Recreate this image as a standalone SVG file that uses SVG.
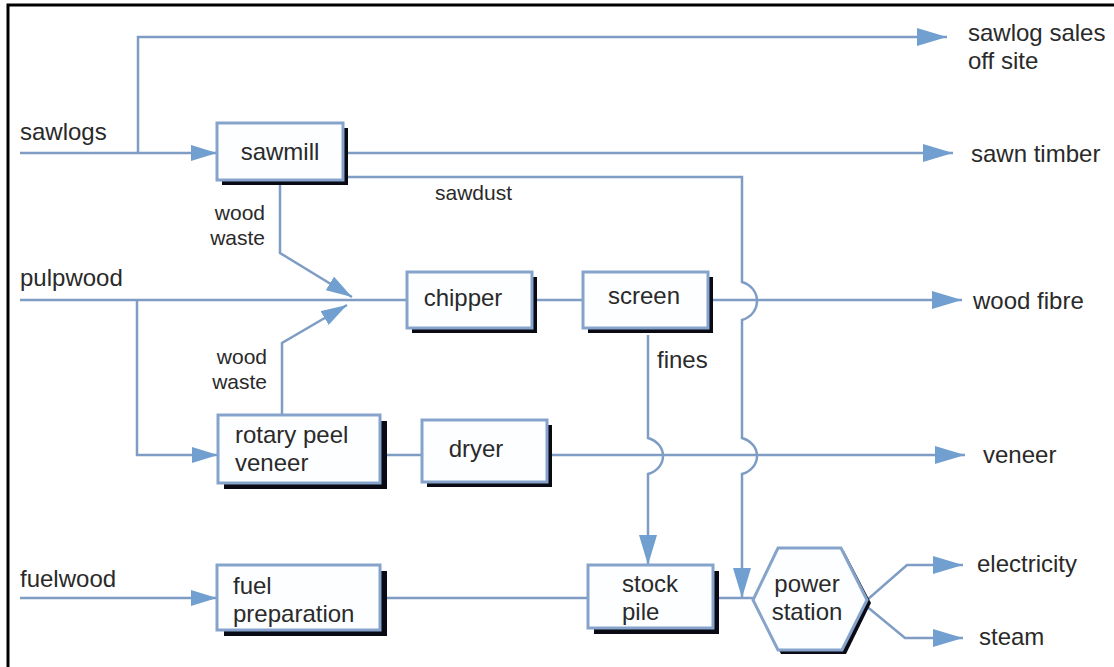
<svg xmlns="http://www.w3.org/2000/svg" width="1114" height="667" viewBox="0 0 1114 667">
<style>
.ln{fill:none;stroke:#7f9dc4;stroke-width:2.5}
.box{fill:#fdfeff;stroke:#86a4cb;stroke-width:3}
.sh{fill:#0a0a14}
.t{font-family:"Liberation Sans",Arial,sans-serif;font-size:24px;fill:#2a2a2a}
.s{font-family:"Liberation Sans",Arial,sans-serif;font-size:21px;fill:#2a2a2a}
.c{text-anchor:middle}
.r{text-anchor:end}
</style>
<defs>
<marker id="a" markerUnits="userSpaceOnUse" viewBox="0 0 30 18" markerWidth="30" markerHeight="18" refX="30" refY="9" orient="auto">
<path d="M0,0 L30,9 L0,18 z" fill="#719fcf"/>
</marker>
<marker id="b" markerUnits="userSpaceOnUse" viewBox="0 0 26 16" markerWidth="26" markerHeight="16" refX="26" refY="8" orient="auto">
<path d="M0,0 L26,8 L0,16 z" fill="#719fcf"/>
</marker>
</defs>
<rect width="1114" height="667" fill="#ffffff"/>
<path d="M8,667 V5 H1114" fill="none" stroke="#000" stroke-width="3"/>

<g id="connectors">
<path class="ln" d="M20,153 H217" marker-end="url(#b)"/>
<path class="ln" d="M138,153 V37 H947" marker-end="url(#a)"/>
<path class="ln" d="M348,153 H953" marker-end="url(#a)"/>
<path class="ln" d="M348,177 H742 V282 C762,288 762,314 742,320 V438 C762,444 762,468 742,474 V598" marker-end="url(#a)"/>
<path class="ln" d="M280,185 V253 L352,297" marker-end="url(#b)"/>
<path class="ln" d="M20,300 H407"/>
<path class="ln" d="M137,300 V455 H218" marker-end="url(#b)"/>
<path class="ln" d="M282,415 V343 L347,305" marker-end="url(#b)"/>
<path class="ln" d="M537,300 H583"/>
<path class="ln" d="M713,300 H962" marker-end="url(#a)"/>
<path class="ln" d="M648,335 V438 C668,444 668,468 648,474 V565" marker-end="url(#a)"/>
<path class="ln" d="M387,455 H422"/>
<path class="ln" d="M552,455 H965" marker-end="url(#a)"/>
<path class="ln" d="M20,598 H217" marker-end="url(#b)"/>
<path class="ln" d="M385,598 H588"/>
<path class="ln" d="M718,598 H753"/>
<path class="ln" d="M867,600 L907,565 H963" marker-end="url(#a)"/>
<path class="ln" d="M865,605 L905,638 H963" marker-end="url(#a)"/>
</g>

<g id="sawmill">
<rect class="sh" x="222" y="128" width="126" height="57"/>
<rect class="box" x="217" y="123" width="126" height="57"/>
<text class="t c" x="280" y="160">sawmill</text>
</g>
<g id="chipper">
<rect class="sh" x="412" y="277" width="125" height="56"/>
<rect class="box" x="407" y="272" width="125" height="56"/>
<text class="t c" x="463" y="306">chipper</text>
</g>
<g id="screen">
<rect class="sh" x="588" y="277" width="125" height="56"/>
<rect class="box" x="583" y="272" width="125" height="56"/>
<text class="t c" x="644" y="304">screen</text>
</g>
<g id="rotary">
<rect class="sh" x="224" y="421" width="163" height="68"/>
<rect class="box" x="218" y="415" width="162" height="68"/>
<text class="t" x="235" y="443">rotary peel</text>
<text class="t" x="235" y="471">veneer</text>
</g>
<g id="dryer">
<rect class="sh" x="427" y="425" width="125" height="62"/>
<rect class="box" x="422" y="420" width="125" height="62"/>
<text class="t c" x="476" y="457">dryer</text>
</g>
<g id="fuelprep">
<rect class="sh" x="224" y="571" width="163" height="65"/>
<rect class="box" x="217" y="565" width="163" height="65"/>
<text class="t" x="233" y="594">fuel</text>
<text class="t" x="233" y="622">preparation</text>
</g>
<g id="stockpile">
<rect class="sh" x="594" y="571" width="125" height="63"/>
<rect class="box" x="588" y="565" width="125" height="63"/>
<text class="t" x="622" y="592">stock</text>
<text class="t" x="622" y="620">pile</text>
</g>
<g id="powerstation">
<polygon points="779,551 844,551 871,603 846,654 781,654 756,603" fill="#0a0a14"/>
<polygon points="778,548 841,548 867,600 842,650 778,650 753,600" fill="#fdfeff" stroke="#86a4cb" stroke-width="3"/>
<text class="t c" x="807" y="592">power</text>
<text class="t c" x="807" y="620">station</text>
</g>

<g id="labels">
<text class="t" x="20" y="140">sawlogs</text>
<text class="t" x="20" y="286">pulpwood</text>
<text class="t" x="20" y="587">fuelwood</text>
<text class="t" x="968" y="41">sawlog sales</text>
<text class="t" x="968" y="69">off site</text>
<text class="t" x="971" y="162">sawn timber</text>
<text class="t" x="973" y="309">wood fibre</text>
<text class="t" x="983" y="463">veneer</text>
<text class="t" x="977" y="572">electricity</text>
<text class="t" x="979" y="645">steam</text>
<text class="s r" x="265" y="220">wood</text>
<text class="s r" x="265" y="245">waste</text>
<text class="s r" x="267" y="364">wood</text>
<text class="s r" x="267" y="389">waste</text>
<text class="s" x="435" y="200">sawdust</text>
<text class="t" x="657" y="368">fines</text>
</g>
</svg>
